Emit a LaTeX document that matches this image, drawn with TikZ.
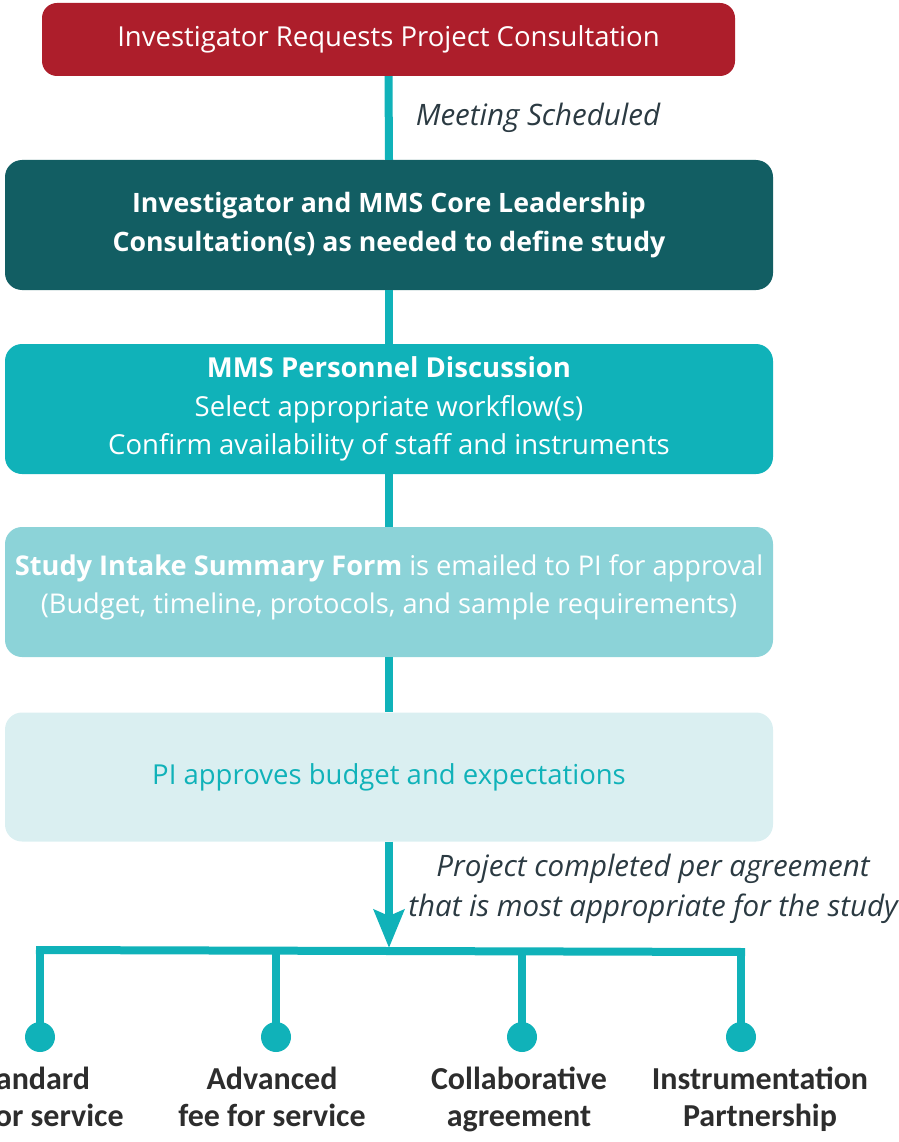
\documentclass[tikz,border=0pt]{standalone}
\usepackage{fontspec}
\setmainfont{Open Sans}
\newfontfamily\labfont{Carlito}
\usetikzlibrary{arrows.meta,calc}
\definecolor{cred}{HTML}{AD1E2B}
\definecolor{cdark}{HTML}{125E63}
\definecolor{cteal}{HTML}{10B2B9}
\definecolor{clight}{HTML}{8CD3D8}
\definecolor{cpale}{HTML}{DAEFF1}
\definecolor{cgray}{HTML}{2B3A42}
\definecolor{clab}{HTML}{2D2D2D}
\tikzset{
  box/.style={rounded corners=17pt, minimum width=768pt, minimum height=130pt, align=center, inner sep=0pt,
    font={\fontsize{27.5}{38.5}\selectfont}},
  btxt/.style={align=center, inner sep=0pt, font={\fontsize{27.2}{38.5}\selectfont}},
  conn/.style={draw=cteal, line width=8pt},
  note/.style={font={\fontsize{29.5}{40}\selectfont\itshape}, text=cgray, align=center},
  dot/.style={circle, fill=cteal, minimum size=30pt, inner sep=0pt},
  lab/.style={font={\labfont\bfseries\fontsize{32}{37}\selectfont}, text=clab, align=center, anchor=north}
}
\begin{document}
\begin{tikzpicture}[x=1pt,y=-1pt]
\useasboundingbox (0,0) rectangle (898,1142);
\node[box, fill=cred, text=white, minimum width=693pt, minimum height=73pt, rounded corners=15pt] (r) at (388.5,39.5) {Investigator Requests Project Consultation};
\node[box, fill=cdark, text=white, font={\fontsize{26.7}{38.5}\selectfont\bfseries}] (b2) at (389,225) {Investigator and MMS Core Leadership\\Consultation(s) as needed to define study};
\node[box, fill=cteal, text=white] (b3) at (389,409) {\textbf{MMS Personnel Discussion}\\Select appropriate workflow(s)\\Confirm availability of staff and instruments};
\node[box, fill=clight] (b4) at (389,592) {};
\node[btxt, text=white] (b4t) at (389,587.5) {\textbf{Study Intake Summary Form} is emailed to PI for approval\\(Budget, timeline, protocols, and sample requirements)};
\node[box, fill=cpale, text=cteal, minimum height=129pt] (b5) at (389,777) {PI approves budget and expectations};

\draw[conn] (r.south) -- (b2.north);
\draw[conn] (b2.south) -- (b3.north);
\draw[conn] (b3.south) -- (b4.north);
\draw[conn] (b4.south) -- (b5.north);

\node[note] (m1) at (538,118) {Meeting Scheduled};
\node[note] (m2) at (653,889) {Project completed per agreement\\that is most appropriate for the study};

\coordinate (tip) at (389,948);
\coordinate (bl) at (36,950);
\coordinate (br) at (745,952);
\draw[conn, line cap=butt] (bl) -- (br);
\draw[conn, -{Stealth[length=38pt,width=30pt,inset=6pt]}] (b5.south) -- (tip);

\node[dot] (d1) at (40,1037) {};
\node[dot] (d2) at (276,1037) {};
\node[dot] (d3) at (522,1037) {};
\node[dot] (d4) at (741,1037) {};
\coordinate (t1) at (40,950);
\coordinate (t2) at (276,950.5);
\coordinate (t3) at (522,951.5);
\coordinate (t4) at (741,952);
\draw[conn] (t1) -- (d1.center);
\draw[conn] (t2) -- (d2.center);
\draw[conn] (t3) -- (d3.center);
\draw[conn] (t4) -- (d4.center);

\node[lab] (l1) at (30,1063) {Standard\\fee for service};
\node[lab] (l2) at (272,1063) {Advanced\\fee for service};
\node[lab] (l3) at (519,1063) {Collaborative\\agreement};
\node[lab] (l4) at (760,1063) {Instrumentation\\Partnership};
\end{tikzpicture}
\end{document}
